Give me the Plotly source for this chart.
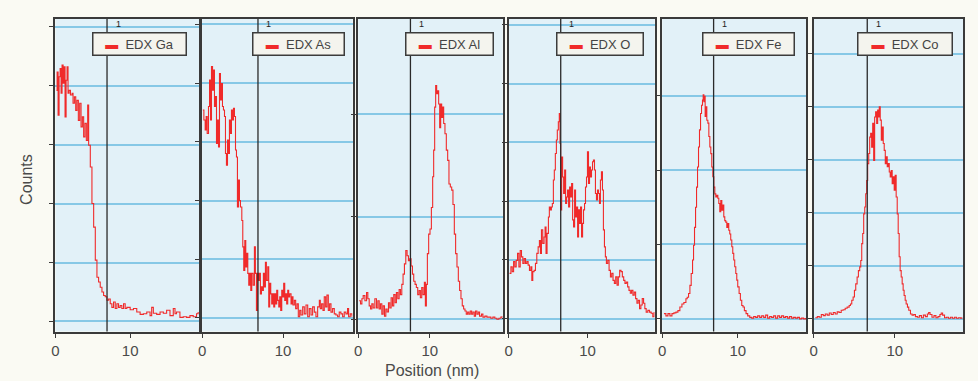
import plotly.graph_objects as go

# ---------------- data (position in nm, counts) ----------------
ga_pos = [0.13,0.22,0.35,0.48,0.62,0.75,0.88,1.02,1.15,1.28,1.42,1.55,1.68,1.82,2.0,2.22,2.35,2.53,2.71,2.88,
          3.06,3.24,3.42,3.6,3.77,3.95,4.13,4.31,4.44,4.66,4.88,5.11,5.33,5.55,5.77,5.99,6.22,6.44,6.66,6.88,
          7.11,7.33,7.55,7.77,8.0,8.22,8.44,8.66,8.88,9.11,9.33,9.55,10.0,10.44,10.88,11.33,11.77,12.22,12.66,12.88,
          13.1,13.55,14.0,14.44,14.88,15.33,15.77,16.0,16.2,16.66,17.1,17.55,18.0,18.44,18.88,19.1]
ga_counts = [392,423,350,415,429,387,435,404,432,347,409,432,387,392,384,387,370,381,358,375,
             341,370,330,347,313,336,307,367,299,262,200,160,104,75,67,58,50,44,42,36,
             38,30,24,33,22,30,24,27,22,30,22,24,20,22,16,12,13,16,10,24,
             14,12,16,14,19,10,22,13,16,7,8,7,10,8,13,16]

as_pos = [0.08,0.21,0.37,0.49,0.62,0.78,0.91,1.03,1.15,1.28,1.40,1.52,1.65,1.77,1.89,2.02,2.14,2.26,2.39,2.51,
          2.63,2.76,2.88,3.0,3.13,3.25,3.37,3.5,3.62,3.74,3.87,3.99,4.12,4.24,4.36,4.49,4.61,4.73,4.90,5.02,
          5.14,5.27,5.39,5.51,5.64,5.76,5.88,6.01,6.13,6.30,6.46,6.58,6.71,6.83,6.95,7.08,7.2,7.33,7.45,7.57,
          7.7,7.82,7.94,8.11,8.23,8.35,8.48,8.6,8.72,8.85,8.97,9.09,9.22,9.34,9.47,9.59,9.71,9.84,9.96,10.08,
          10.21,10.33,10.45,10.58,10.7,10.82,10.99,11.11,11.23,11.4,11.56,11.73,11.89,12.06,12.22,12.43,12.63,12.84,13.05,13.25,
          13.46,13.66,13.87,14.07,14.28,14.49,14.61,14.77,14.94,15.1,15.27,15.43,15.6,15.76,15.93,16.13,16.34,16.54,16.75,16.95,
          17.16,17.37,17.57,17.78,17.98,18.11,18.31,18.52]
as_counts = [354,337,320,343,314,360,405,337,428,388,422,360,377,297,337,291,416,371,399,360,
             354,343,280,260,303,280,337,314,354,337,357,343,286,274,189,235,200,189,166,121,
             81,132,87,110,76,56,76,47,76,56,121,76,13,76,64,76,41,53,47,76,
             53,95,64,87,19,59,41,24,41,19,41,24,47,30,19,36,13,47,36,59,
             30,41,24,47,36,41,24,36,22,30,16,24,2,13,5,19,7,22,2,16,
             5,19,10,2,19,30,16,24,13,36,19,39,13,24,10,16,7,5,2,10,
             7,2,10,7,16,2,7,2]

al_pos = [0.13,0.32,0.51,0.69,0.93,1.16,1.34,1.53,1.72,1.9,2.09,2.32,2.55,2.74,2.93,3.11,3.3,3.48,3.67,3.86,
          4.04,4.23,4.41,4.6,4.79,4.97,5.16,5.34,5.53,5.72,5.9,6.09,6.27,6.46,6.65,6.83,7.02,7.2,7.39,7.58,
          7.76,7.95,8.13,8.32,8.51,8.69,8.88,9.06,9.25,9.39,9.53,9.67,9.85,10.04,10.23,10.41,10.55,10.69,10.83,10.97,
          11.11,11.25,11.39,11.53,11.67,11.81,11.95,12.13,12.32,12.51,12.69,12.88,13.07,13.25,13.44,13.62,13.81,14.0,14.18,14.37,
          14.55,14.74,14.93,15.11,15.3,15.48,15.67,15.86,16.04,16.23,16.41,16.6,16.79,16.97,17.25,17.44,17.72,18.0,18.27,18.55,
          18.83,19.11,19.39,19.67,19.95,20.13]
al_counts = [18,15,20,23,18,26,20,13,10,15,11,20,11,18,10,15,5,13,3,10,
             7,16,11,21,13,24,16,26,20,29,24,34,44,54,67,62,57,59,52,44,
             37,34,31,24,28,21,31,24,36,13,34,64,83,88,109,139,165,207,228,220,
             223,210,187,210,197,207,191,181,165,155,132,129,126,112,83,64,51,37,28,20,
             13,10,8,5,7,5,8,5,7,3,8,5,7,3,5,2,3,2,2,1,
             2,1,0,1,2,3]

o_pos = [0.12,0.29,0.46,0.63,0.79,0.96,1.13,1.3,1.47,1.63,1.8,1.97,2.14,2.31,2.47,2.64,2.81,2.94,3.06,3.23,
         3.4,3.57,3.74,3.9,4.03,4.16,4.32,4.49,4.62,4.74,4.87,5.04,5.16,5.29,5.42,5.54,5.67,5.79,5.92,6.05,
         6.17,6.3,6.42,6.51,6.59,6.72,6.84,6.97,7.1,7.22,7.35,7.47,7.6,7.73,7.85,7.98,8.11,8.23,8.36,8.48,
         8.61,8.74,8.86,8.99,9.11,9.24,9.37,9.49,9.62,9.74,9.87,9.99,10.12,10.25,10.37,10.5,10.63,10.75,10.88,11.0,
         11.13,11.26,11.38,11.51,11.63,11.76,11.89,12.01,12.14,12.26,12.39,12.56,12.73,12.9,13.06,13.23,13.4,13.57,13.74,13.9,
         14.07,14.24,14.41,14.58,14.74,14.91,15.08,15.25,15.42,15.58,15.75,15.92,16.09,16.26,16.42,16.59,16.76,16.93,17.1,17.26,
         17.43,17.64,17.85,18.06,18.27,18.44]
o_counts = [77,88,80,97,88,99,111,88,116,105,94,102,94,97,91,82,88,65,80,82,
            94,111,122,133,111,151,128,139,156,111,145,173,190,185,190,196,236,253,281,304,
            321,335,349,298,185,275,241,213,253,196,207,219,190,224,207,230,168,156,219,173,
            190,139,185,162,190,139,162,185,196,224,241,284,230,258,241,253,267,270,253,213,
            202,219,213,196,236,250,219,151,122,105,94,99,82,71,77,65,60,71,57,71,
            82,80,71,65,60,62,54,48,43,48,40,45,34,26,31,17,23,34,26,17,
            11,14,11,9,3,11]

fe_pos = [0.22,0.48,0.75,1.01,1.28,1.54,1.81,2.07,2.33,2.6,2.86,3.13,3.3,3.48,3.66,3.83,4.01,4.14,4.27,4.41,
          4.54,4.67,4.8,4.93,5.07,5.2,5.33,5.42,5.51,5.59,5.68,5.77,5.9,6.04,6.17,6.3,6.43,6.56,6.7,6.83,
          6.96,7.09,7.22,7.36,7.49,7.62,7.75,7.89,8.02,8.15,8.28,8.41,8.55,8.68,8.81,8.94,9.07,9.21,9.34,9.47,
          9.6,9.74,9.87,10.0,10.18,10.35,10.53,10.7,10.88,11.1,11.32,11.59,11.85,12.11,12.38,12.64,12.91,13.17,13.44,13.7,
          13.96,14.23,14.49,14.76,15.02,15.29,15.55,15.81,16.08,16.34,16.61,16.87,17.14,17.4,17.67,17.93,18.19,18.46,18.72,18.99]
fe_counts = [7,4,7,4,7,8,9,11,16,20,22,27,29,34,45,61,79,99,123,150,
             177,204,231,254,276,287,294,301,292,299,272,285,267,263,245,231,222,204,191,177,
             168,164,166,162,155,144,159,146,153,137,132,130,123,128,119,114,106,97,88,79,
             70,61,52,43,34,25,18,16,11,7,4,2,1,3,2,4,2,4,2,5,
             1,3,2,4,1,4,2,4,2,3,1,3,1,2,1,2,0,1,0,1]

co_pos = [0.2,0.45,0.69,0.94,1.18,1.43,1.67,1.92,2.16,2.41,2.65,2.9,3.14,3.39,3.63,3.88,4.12,4.37,4.53,4.69,
          4.86,5.02,5.18,5.35,5.51,5.67,5.8,5.92,6.04,6.16,6.29,6.41,6.53,6.65,6.78,6.9,7.02,7.14,7.27,7.39,
          7.51,7.63,7.76,7.88,8.0,8.08,8.2,8.33,8.45,8.57,8.69,8.82,8.94,9.06,9.18,9.31,9.43,9.55,9.67,9.8,
          9.92,10.04,10.16,10.29,10.41,10.53,10.65,10.78,10.9,11.02,11.14,11.27,11.39,11.55,11.71,11.92,12.12,12.33,12.53,12.78,
          13.02,13.27,13.51,13.76,14.0,14.16,14.33,14.57,14.82,15.06,15.31,15.55,15.71,15.88,16.12,16.37,16.61,16.86,17.1,17.35,
          17.59,17.84,18.08,18.24]
co_counts = [2,4,3,8,6,9,7,11,8,12,9,13,12,16,17,20,22,25,28,35,
             41,54,66,79,91,98,110,142,161,198,211,236,261,293,312,343,350,324,369,299,
             381,391,369,394,381,400,375,337,362,331,318,293,306,287,293,277,268,280,255,268,
             243,271,230,198,161,117,91,79,66,54,44,35,28,22,16,9,7,8,4,3,
             6,2,7,4,9,12,8,3,6,2,4,8,11,7,2,3,1,3,1,3,
             1,2,1,3]

series_names = ["EDX Ga", "EDX As", "EDX Al", "EDX O", "EDX Fe", "EDX Co"]
series_pos = [ga_pos, as_pos, al_pos, o_pos, fe_pos, co_pos]
series_counts = [ga_counts, as_counts, al_counts, o_counts, fe_counts, co_counts]
cursor_pos = [6.9, 6.9, 7.3, 6.6, 6.8, 6.6]          # marker line position (nm)
x_tick_vals = [0, 10]

# ---------------- layout (pixels in a 978 x 381 canvas) ----------------
W, H = 978, 381
plot_top, plot_bottom = 19, 331.5
panel_px = [(51.7, 196), (199, 350), (355.7, 500.7), (506.7, 653.3), (661, 805.7), (813, 963)]
x_max = [19.24, 18.6, 20.2, 18.5, 19.1, 18.4]
y_ranges = [[-17, 513], [-23, 509], [-12, 293], [-22, 510], [-17, 403], [-24, 566]]
y_ticks = [[0, 100, 200, 300, 400, 500], [0, 100, 200, 300, 400, 500], [0, 100, 200],
           [0, 100, 200, 300, 400, 500], [0, 100, 200, 300], [0, 100, 200, 300, 400, 500]]
legend_px = [(89, 184), (249, 342), (403, 492), (555, 643), (701, 794), (857, 953)]

FONT = "Liberation Sans, Arial, sans-serif"
AXIS_COLOR = "#3a3a3a"
GRID_COLOR = "#86c8e6"
PLOT_BG = "#e2f1f8"
PAPER_BG = "#fafaf3"
RED = "#f02a2a"

for p, c in zip(series_pos, series_counts):
    assert len(p) == len(c)

fig = go.Figure()
layout = dict(
    width=W, height=H,
    margin=dict(l=0, r=0, t=0, b=0),
    paper_bgcolor=PAPER_BG,
    plot_bgcolor=PLOT_BG,
    showlegend=False,
    font=dict(family=FONT, color="#4a4a4a", size=14),
)
annotations = []
shapes = []
ydom = [1 - plot_bottom / H, 1 - plot_top / H]

for i in range(6):
    n = i + 1
    xa = "x" if n == 1 else f"x{n}"
    ya = "y" if n == 1 else f"y{n}"
    fig.add_trace(go.Scatter(
        x=series_pos[i], y=series_counts[i], name=series_names[i],
        mode="lines", line=dict(color=RED, width=1.1, shape="hv"),
        xaxis=xa, yaxis=ya, hoverinfo="x+y+name",
    ))
    x0, x1 = panel_px[i]
    layout[f"xaxis{n}"] = dict(
        domain=[x0 / W, x1 / W], range=[0, x_max[i]], anchor=ya,
        showline=True, mirror=True, linecolor=AXIS_COLOR, linewidth=1.5,
        ticks="outside", ticklen=5, tickwidth=1.2, tickcolor=AXIS_COLOR,
        tickvals=x_tick_vals, showgrid=False, zeroline=False,
        tickfont=dict(family=FONT, size=15, color="#4a4a4a"),
    )
    layout[f"yaxis{n}"] = dict(
        domain=ydom, range=y_ranges[i], anchor=xa,
        showline=True, mirror=True, linecolor=AXIS_COLOR, linewidth=1.5,
        ticks="outside", ticklen=5, tickwidth=1.2, tickcolor=AXIS_COLOR,
        tickvals=y_ticks[i], showticklabels=False,
        showgrid=True, gridcolor=GRID_COLOR, gridwidth=1.5, zeroline=False,
    )
    # marker (cursor) line
    shapes.append(dict(type="line", xref=xa, yref=f"{ya} domain",
                       x0=cursor_pos[i], x1=cursor_pos[i], y0=0, y1=1,
                       line=dict(color="#2a2a2a", width=1.3)))
    annotations.append(dict(text="1", xref=xa, yref="paper",
                            x=cursor_pos[i], xshift=11, y=1 - 31 / H,
                            xanchor="center", yanchor="bottom",
                            showarrow=False, font=dict(size=9, color="#222", family=FONT)))
    # legend box
    lx0, lx1 = legend_px[i]
    annotations.append(dict(
        text=f"<span style='color:{RED}'>▬</span>  {series_names[i]}",
        xref="paper", yref="paper", x=lx1 / W, y=1 - 32 / H,
        xanchor="right", yanchor="top", showarrow=False,
        bgcolor="#f4f4ee", bordercolor="#3c3c3c", borderwidth=1.5, borderpad=2,
        width=(lx1 - lx0) - 7, height=17, align="center",
        font=dict(size=13, color="#444", family=FONT),
    ))

annotations.append(dict(text="Counts", xref="paper", yref="paper", x=22 / W, y=1 - 179 / H,
                        xanchor="center", yanchor="middle", textangle=-90, showarrow=False,
                        font=dict(size=16, color="#4a4a4a", family=FONT)))
annotations.append(dict(text="Position (nm)", xref="paper", yref="paper", x=430 / W, y=1 - 370 / H,
                        xanchor="center", yanchor="middle", showarrow=False,
                        font=dict(size=16, color="#4a4a4a", family=FONT)))

layout["annotations"] = annotations
layout["shapes"] = shapes
fig.update_layout(**layout)
fig.write_html(
    "out.html",
    config={"displayModeBar": False},
    post_script=f"document.body.style.margin='0px'; document.body.style.background='{PAPER_BG}';",
)
